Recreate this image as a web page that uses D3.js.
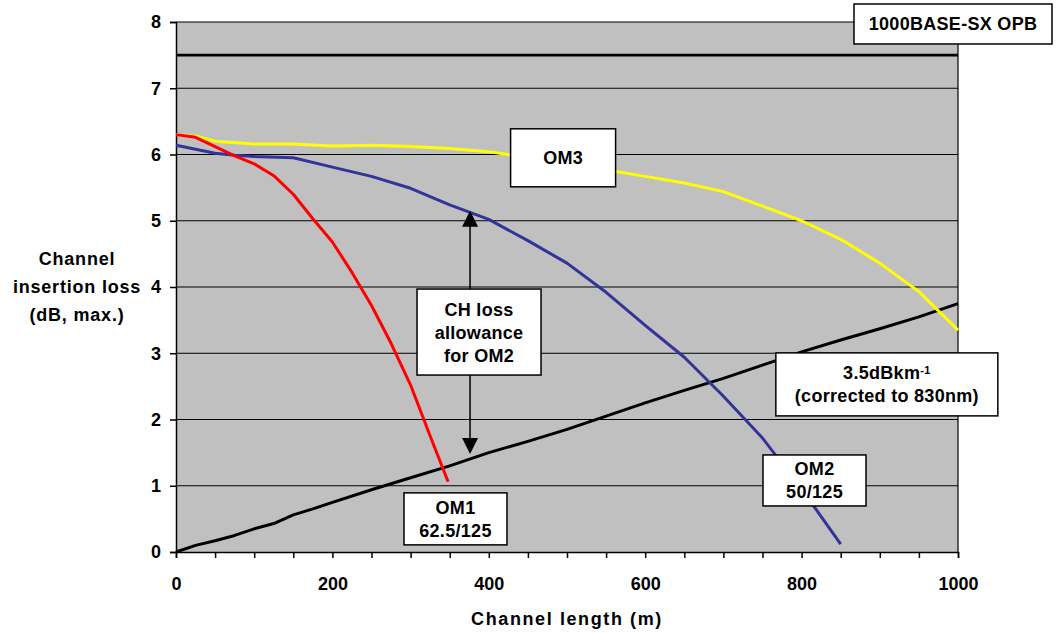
<!DOCTYPE html>
<html>
<head>
<meta charset="utf-8">
<script src="https://cdn.jsdelivr.net/npm/d3@7"></script>
<style>
  body { margin: 0; background: #fff; }
  svg { font-family: "Liberation Sans", Arial, sans-serif; font-weight: bold; }
</style>
</head>
<body>
<svg id="chart" width="1056" height="633"></svg>
<script>
// Channel insertion loss vs. channel length (1000BASE-SX)

const om3 = [[0,6.3],[25,6.28],[50,6.2],[100,6.16],[150,6.16],[200,6.13],[250,6.14],[300,6.12],[350,6.09],[400,6.04],[450,5.96],[500,5.87],[550,5.77],[600,5.67],[650,5.57],[700,5.44],[750,5.22],[800,5.0],[850,4.72],[900,4.36],[950,3.93],[1000,3.35]];
const om2 = [[0,6.14],[25,6.08],[50,6.02],[75,5.99],[100,5.97],[150,5.95],[200,5.81],[250,5.67],[300,5.49],[350,5.24],[400,5.02],[450,4.7],[500,4.36],[550,3.92],[600,3.42],[650,2.94],[700,2.35],[750,1.72],[800,0.95],[850,0.12]];
const om1 = [[0,6.3],[25,6.26],[50,6.12],[75,5.98],[100,5.86],[125,5.68],[150,5.4],[175,5.03],[200,4.68],[225,4.22],[250,3.72],[275,3.15],[300,2.52],[325,1.75],[348,1.06]];
const fibreLoss = [[0,0],[25,0.1],[50,0.17],[75,0.25],[100,0.35],[125,0.43],[150,0.56],[175,0.65],[200,0.75],[250,0.94],[300,1.12],[350,1.3],[400,1.5],[450,1.67],[500,1.85],[550,2.05],[600,2.25],[650,2.44],[700,2.62],[750,2.82],[800,3.02],[850,3.2],[900,3.37],[950,3.55],[1000,3.75]];
const opb = [[0,7.5],[1000,7.5]];

const yTicks = [0,1,2,3,4,5,6,7,8];
const xMinorTicks = d3.range(0, 1001, 50);
const xLabelTicks = [0,200,400,600,800,1000];

const allowanceArrow = { x: 376, top: 5.15, bottom: 1.48 };

const notes = [
  { lines: ["1000BASE-SX OPB"], x: 993.6, y: 7.97, w: 198, h: 40 },
  { lines: ["OM3"], x: 495, y: 5.95, w: 105, h: 58 },
  { lines: ["CH loss", "allowance", "for OM2"], x: 387.5, y: 3.32, w: 124, h: 86 },
  { lines: ["3.5dBkm|-1", "(corrected to 830nm)"], x: 909, y: 2.53, w: 222, h: 63 },
  { lines: ["OM2", "50/125"], x: 816.5, y: 1.08, w: 103, h: 51 },
  { lines: ["OM1", "62.5/125"], x: 357.4, y: 0.5, w: 103, h: 52 }
];

const svg = d3.select("#chart");
const plotLeft = 176, plotRight = 958, plotTop = 22, plotBottom = 552;

const x = d3.scaleLinear().domain([0, 1000]).range([plotLeft, plotRight]);
const y = d3.scaleLinear().domain([0, 8]).range([plotBottom, plotTop]);

// plot area
svg.append("rect")
  .attr("x", plotLeft).attr("y", plotTop)
  .attr("width", plotRight - plotLeft).attr("height", plotBottom - plotTop)
  .attr("fill", "#c0c0c0");

// gridlines
svg.append("g")
  .selectAll("line")
  .data(yTicks.filter((d) => d > 0))
  .join("line")
  .attr("x1", plotLeft).attr("x2", plotRight)
  .attr("y1", (d) => y(d)).attr("y2", (d) => y(d))
  .attr("stroke", "#000").attr("stroke-width", 1.2);

// right border
svg.append("line")
  .attr("x1", plotRight).attr("x2", plotRight).attr("y1", plotTop).attr("y2", plotBottom)
  .attr("stroke", "#000").attr("stroke-width", 1.2);

// axes
const yAxis = svg.append("g")
  .attr("transform", `translate(${plotLeft},0)`)
  .call(d3.axisLeft(y).tickValues(yTicks).tickSize(6).tickPadding(9).tickFormat(d3.format("d")));
const xAxis = svg.append("g")
  .attr("transform", `translate(0,${plotBottom})`)
  .call(d3.axisBottom(x).tickValues(xMinorTicks).tickSize(6).tickPadding(19)
    .tickFormat((d) => (xLabelTicks.includes(d) ? d : "")));

[xAxis, yAxis].forEach((ax) => {
  ax.select(".domain").attr("stroke", "#000").attr("stroke-width", 1.5);
  ax.selectAll(".tick line").attr("stroke", "#000").attr("stroke-width", 1.5);
  ax.selectAll(".tick text")
    .attr("fill", "#000")
    .style("font-size", "18px")
    .style("font-weight", "bold")
    .style("font-family", "'Liberation Sans', Arial, sans-serif");
});

const line = d3.line().x((d) => x(d[0])).y((d) => y(d[1]));

svg.append("path").datum(opb).attr("d", line)
  .attr("fill", "none").attr("stroke", "#000").attr("stroke-width", 2.8);

const series = [
  { data: fibreLoss, color: "#000000" },
  { data: om3, color: "#ffff00" },
  { data: om2, color: "#333399" },
  { data: om1, color: "#ff0000" }
];
svg.append("g")
  .selectAll("path")
  .data(series)
  .join("path")
  .attr("d", (d) => line(d.data))
  .attr("fill", "none")
  .attr("stroke", (d) => d.color)
  .attr("stroke-width", 3)
  .attr("stroke-linejoin", "round");

// double-headed arrow for CH loss allowance
const ax = x(allowanceArrow.x);
const aTop = y(allowanceArrow.top), aBot = y(allowanceArrow.bottom);
svg.append("line")
  .attr("x1", ax).attr("x2", ax).attr("y1", aTop + 10).attr("y2", aBot - 10)
  .attr("stroke", "#000").attr("stroke-width", 1.5);
svg.append("path")
  .attr("d", `M${ax},${aTop} L${ax - 8},${aTop + 16} L${ax + 8},${aTop + 16} Z`)
  .attr("fill", "#000");
svg.append("path")
  .attr("d", `M${ax},${aBot} L${ax - 8},${aBot - 16} L${ax + 8},${aBot - 16} Z`)
  .attr("fill", "#000");

// annotation boxes
const noteG = svg.append("g")
  .selectAll("g")
  .data(notes)
  .join("g")
  .attr("transform", (d) => `translate(${x(d.x)},${y(d.y)})`);

noteG.append("rect")
  .attr("x", (d) => -d.w / 2).attr("y", (d) => -d.h / 2)
  .attr("width", (d) => d.w).attr("height", (d) => d.h)
  .attr("fill", "#fff").attr("stroke", "#000").attr("stroke-width", 1.5);

noteG.each(function (d) {
  const g = d3.select(this);
  const lh = 23;
  d.lines.forEach((txt, i) => {
    const t = g.append("text")
      .attr("text-anchor", "middle")
      .attr("y", (i - (d.lines.length - 1) / 2) * lh)
      .attr("dy", "0.36em")
      .style("font-size", "18px")
      .style("letter-spacing", "0.3px");
    const parts = txt.split("|");
    t.append("tspan").text(parts[0]);
    if (parts[1]) {
      t.append("tspan").attr("dy", "-0.5em").style("font-size", "11px").text(parts[1]);
    }
  });
});

// axis titles
svg.append("text")
  .attr("x", x(500)).attr("y", 625)
  .attr("text-anchor", "middle")
  .style("font-size", "18px")
  .style("letter-spacing", "1.6px")
  .text("Channel length (m)");

const yTitle = svg.append("text")
  .attr("text-anchor", "middle")
  .style("font-size", "18px")
  .style("letter-spacing", "0.8px");
["Channel", "insertion loss", "(dB, max.)"].forEach((t, i) => {
  yTitle.append("tspan").attr("x", 77).attr("y", 265 + i * 28).text(t);
});
</script>
</body>
</html>
